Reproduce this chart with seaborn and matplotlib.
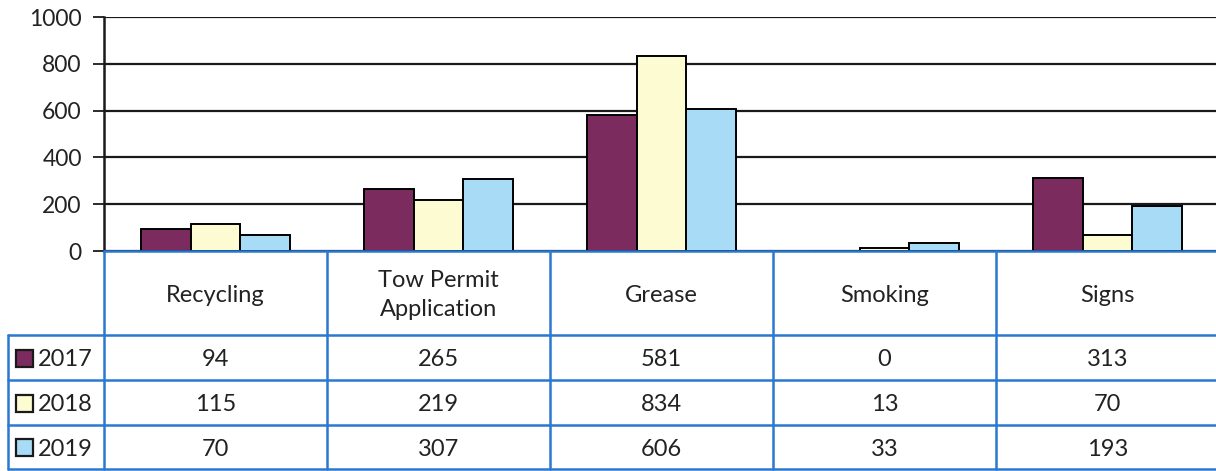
import numpy as np
import pandas as pd
import seaborn as sns
import matplotlib.pyplot as plt

categories = ["Recycling", "Tow Permit\nApplication", "Grease", "Smoking", "Signs"]
years = ["2017", "2018", "2019"]
v2017 = [94, 265, 581, 0, 313]
v2018 = [115, 219, 834, 13, 70]
v2019 = [70, 307, 606, 33, 193]
colors = ["#7b2b5e", "#fdfbd2", "#a8dcf6"]

df = pd.DataFrame({
    "category": categories * 3,
    "year": [y for y in years for _ in categories],
    "value": v2017 + v2018 + v2019,
})

sns.set_style("white")
plt.rcParams["font.family"] = ["Lato", "DejaVu Sans"]

W, H = 1216, 471
fig = plt.figure(figsize=(W / 100, H / 100), dpi=100)

# plot area in pixels
x0, x1, ytop, ybot = 104, 1219, 17, 251
ax = fig.add_axes([x0 / W, 1 - ybot / H, (x1 - x0) / W, (ybot - ytop) / H])

sns.barplot(data=df, x="category", y="value", hue="year", palette=colors,
            saturation=1, width=0.67, edgecolor="black", linewidth=1.4,
            gap=0, ax=ax, legend=False, zorder=3)

ax.set_ylim(0, 1000)
ax.set_xlim(-0.5, len(categories) - 0.5)
ax.set_yticks(range(0, 1001, 200))
ax.yaxis.grid(True, color="#1a1a1a", linewidth=1.6, zorder=0)
ax.set_axisbelow(True)
ax.tick_params(axis="y", labelsize=16.5, left=True, length=8, width=1.3,
               color="#1a1a1a", pad=8, labelcolor="#222222")
ax.set_xticks([])
ax.set_xlabel("")
ax.set_ylabel("")
for s in ["top", "right", "bottom"]:
    ax.spines[s].set_visible(False)
ax.spines["left"].set_color("#1a1a1a")
ax.spines["left"].set_linewidth(1.8)

# data table under the plot
tab = fig.add_axes([0, 0, 1, 1], zorder=5)
tab.set_xlim(0, W)
tab.set_ylim(H, 0)
tab.axis("off")

blue = "#2a78d0"
cw = (x1 - x0) / len(categories)
col_edges = [x0 + i * cw for i in range(len(categories) + 1)]
row_edges = [ybot, 335, 380, 425, 469]
lab_x0 = 8
fs = 17

lw = 1.8
# horizontal lines
tab.plot([x0, x1], [ybot, ybot], color=blue, lw=lw)
for y in row_edges[1:]:
    tab.plot([lab_x0, x1], [y, y], color=blue, lw=lw)
# vertical lines
for x in col_edges:
    tab.plot([x, x], [ybot, row_edges[-1]], color=blue, lw=lw)
tab.plot([lab_x0, lab_x0], [row_edges[1], row_edges[-1]], color=blue, lw=lw)

for i, cat in enumerate(categories):
    cx = (col_edges[i] + col_edges[i + 1]) / 2
    tab.text(cx, (row_edges[0] + row_edges[1]) / 2 + 2, cat, ha="center",
             va="center", fontsize=fs, color="#222222", linespacing=1.45)

rows = [v2017, v2018, v2019]
for r, (yr, vals, c) in enumerate(zip(years, rows, colors)):
    cy = (row_edges[r + 1] + row_edges[r + 2]) / 2
    tab.add_patch(plt.Rectangle((16, cy - 8), 17, 17, facecolor=c,
                                edgecolor="#1a1a1a", lw=1.6))
    tab.text(38, cy + 2, yr, ha="left", va="center", fontsize=fs,
             color="#222222")
    for i, v in enumerate(vals):
        cx = (col_edges[i] + col_edges[i + 1]) / 2
        tab.text(cx, cy + 2, str(v), ha="center", va="center", fontsize=fs,
                 color="#222222")

fig.savefig("out.png", dpi=100)
